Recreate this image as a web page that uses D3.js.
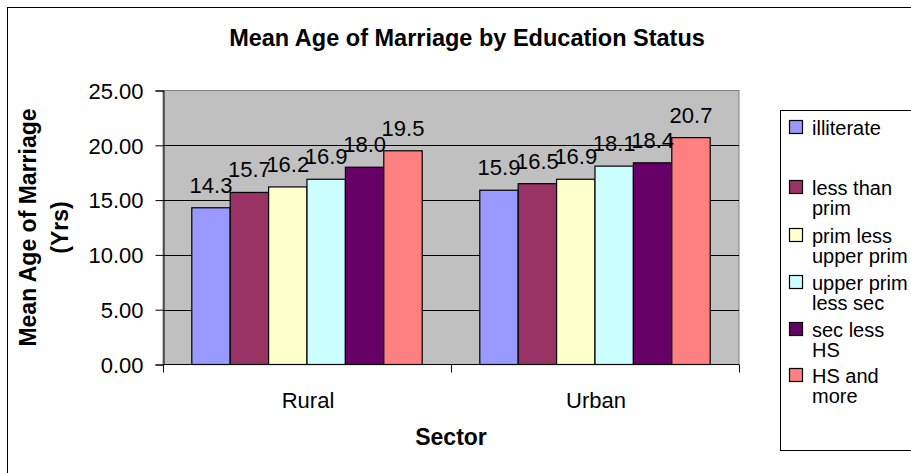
<!DOCTYPE html>
<html>
<head>
<meta charset="utf-8">
<script src="https://cdn.jsdelivr.net/npm/d3@7"></script>
<style>
body { margin: 0; background: #fff; }
text { font-family: "Liberation Sans", Arial, sans-serif; fill: #000; }
</style>
</head>
<body>
<svg width="911" height="473"></svg>
<script>
var sectors = ["Rural", "Urban"];
var series = ["illiterate", "less than prim", "prim less upper prim", "upper prim less sec", "sec less HS", "HS and more"];
var legendLines = [["illiterate"], ["less than", "prim"], ["prim less", "upper prim"], ["upper prim", "less sec"], ["sec less", "HS"], ["HS and", "more"]];
var colors = ["#9999FF", "#993366", "#FFFFCC", "#CCFFFF", "#660066", "#FF8080"];
var rural = [14.3, 15.7, 16.2, 16.9, 18.0, 19.5];
var urban = [15.9, 16.5, 16.9, 18.1, 18.4, 20.7];
var yTicks = [0, 5, 10, 15, 20, 25];

var values = { Rural: rural, Urban: urban };

var svg = d3.select("svg");

// chart frame (runs off the right and bottom edges)
svg.append("rect")
	.attr("x", 7.5).attr("y", 7.5)
	.attr("width", 920).attr("height", 480)
	.attr("fill", "#fff").attr("stroke", "#000");

var plotL = 163, plotR = 739, plotT = 90.5, plotB = 364.5;

var x = d3.scaleBand().domain(sectors).range([plotL, plotR]);
var xi = d3.scaleBand().domain(series).range([0, x.bandwidth()]).paddingOuter(0.75);
var y = d3.scaleLinear().domain([0, 25]).range([plotB, plotT]);

svg.append("rect")
	.attr("x", plotL).attr("y", plotT)
	.attr("width", plotR - plotL).attr("height", plotB - plotT)
	.attr("fill", "#C0C0C0").attr("stroke", "#808080");

// gridlines
svg.append("g").selectAll("line")
	.data(yTicks.slice(1, -1))
	.enter().append("line")
	.attr("x1", plotL).attr("x2", plotR)
	.attr("y1", function(d) { return Math.round(y(d)) + 0.5; })
	.attr("y2", function(d) { return Math.round(y(d)) + 0.5; })
	.attr("stroke", "#000");

// y axis
var yAxis = svg.append("g")
	.attr("transform", "translate(" + (plotL + 0.5) + ",0)")
	.call(d3.axisLeft(y).tickValues(yTicks).tickSize(8).tickPadding(12).tickFormat(d3.format(".2f")));
yAxis.selectAll("text").style("font-size", "22px").style("font-family", null).attr("dy", "0.35em");
yAxis.attr("font-family", null);
yAxis.select(".domain").attr("stroke", "#000");

// x axis
svg.append("line").attr("x1", plotL).attr("x2", plotR).attr("y1", plotB).attr("y2", plotB).attr("stroke", "#000");
svg.append("g").selectAll("line")
	.data([plotL, plotL + x.bandwidth(), plotR])
	.enter().append("line")
	.attr("x1", function(d) { return Math.round(d) + 0.5; })
	.attr("x2", function(d) { return Math.round(d) + 0.5; })
	.attr("y1", plotB).attr("y2", plotB + 8)
	.attr("stroke", "#000");

svg.append("g").selectAll("text")
	.data(sectors)
	.enter().append("text")
	.attr("x", function(d) { return x(d) + x.bandwidth() / 2 + 1; })
	.attr("y", 408)
	.attr("text-anchor", "middle")
	.style("font-size", "22px")
	.text(function(d) { return d; });

// bars
var groups = svg.append("g").selectAll("g")
	.data(sectors)
	.enter().append("g")
	.attr("transform", function(d) { return "translate(" + x(d) + ",0)"; });

groups.selectAll("rect")
	.data(function(d) { return values[d].map(function(v, i) { return { s: series[i], v: v, c: colors[i] }; }); })
	.enter().append("rect")
	.attr("x", function(d) { return xi(d.s); })
	.attr("y", function(d) { return y(d.v); })
	.attr("width", xi.bandwidth())
	.attr("height", function(d) { return plotB - y(d.v); })
	.attr("fill", function(d) { return d.c; })
	.attr("stroke", "#000")
	.attr("stroke-width", 1.2);

groups.selectAll("text")
	.data(function(d) { return values[d].map(function(v, i) { return { s: series[i], v: v }; }); })
	.enter().append("text")
	.attr("x", function(d) { return xi(d.s) + xi.bandwidth() / 2; })
	.attr("y", function(d) { return y(d.v) - 15; })
	.attr("text-anchor", "middle")
	.style("font-size", "22px")
	.text(function(d) { return d.v.toFixed(1); });

// titles
svg.append("text")
	.attr("x", 467).attr("y", 46)
	.attr("text-anchor", "middle")
	.style("font-size", "23.5px").style("font-weight", "bold")
	.text("Mean Age of Marriage by Education Status");

svg.append("text")
	.attr("x", 451).attr("y", 445)
	.attr("text-anchor", "middle")
	.style("font-size", "23px").style("font-weight", "bold")
	.text("Sector");

var yTitle = svg.append("text")
	.attr("transform", "translate(36," + ((plotT + plotB) / 2) + ") rotate(-90)")
	.attr("text-anchor", "middle")
	.style("font-size", "23px").style("font-weight", "bold");
yTitle.append("tspan").attr("x", 0).attr("y", 0).text("Mean Age of Marriage");
yTitle.append("tspan").attr("x", 0).attr("y", 32).text("(Yrs)");

// legend
svg.append("rect")
	.attr("x", 780.5).attr("y", 110.5)
	.attr("width", 200).attr("height", 340)
	.attr("fill", "#fff").attr("stroke", "#000");

var legendBase = [135, 195, 243, 290, 337, 383];
var item = svg.append("g").selectAll("g")
	.data(series)
	.enter().append("g")
	.attr("transform", function(d, i) { return "translate(0," + legendBase[i] + ")"; });

item.append("rect")
	.attr("x", 789.5).attr("y", -14.5)
	.attr("width", 13).attr("height", 13)
	.attr("fill", function(d, i) { return colors[i]; })
	.attr("stroke", "#000").attr("stroke-width", 1.2);

item.append("text")
	.style("font-size", "20px")
	.selectAll("tspan")
	.data(function(d, i) { return legendLines[i]; })
	.enter().append("tspan")
	.attr("x", 812)
	.attr("y", function(d, j) { return j * 19.5; })
	.text(function(d) { return d; });
</script>
</body>
</html>
